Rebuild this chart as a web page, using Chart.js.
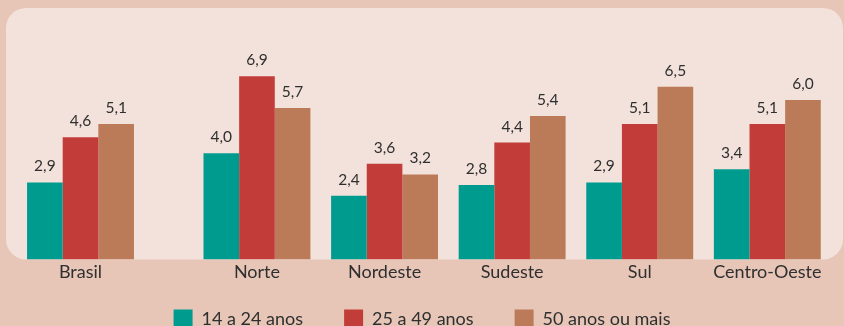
<!DOCTYPE html>
<html lang="pt-BR">
<head>
<meta charset="utf-8">
<script src="https://cdn.jsdelivr.net/npm/chart.js@4/dist/chart.umd.min.js"></script>
<style>
  html, body { margin: 0; padding: 0; overflow: hidden; background: #e7c6b8; }
  #wrap { width: 844px; height: 355px; position: relative; }
</style>
</head>
<body>
<div id="wrap"><canvas id="c"></canvas></div>
<script>
// Regiões e percentuais por faixa etária
const categories = ['Brasil', 'Norte', 'Nordeste', 'Sudeste', 'Sul', 'Centro-Oeste'];
const seriesNames = ['14 a 24 anos', '25 a 49 anos', '50 anos ou mais'];
const jovens   = [2.9, 4.0, 2.4, 2.8, 2.9, 3.4];
const adultos  = [4.6, 6.9, 3.6, 4.4, 5.1, 5.1];
const maisVelhos = [5.1, 5.7, 3.2, 5.4, 6.5, 6.0];

const colors = ['#009b8f', '#c23c39', '#bb7b58'];
const textColor = '#2f2f2f';
const fontFamily = 'Lato, "Open Sans", sans-serif';

// Brasil fica separado das regiões por um espaço extra
const brasilGap = 0.383;
const xPos = categories.map((c, i) => i + (i > 0 ? brasilGap : 0));

const toPoints = vals => vals.map((v, i) => ({ x: xPos[i], y: v }));

const fmt = v => v.toFixed(1).replace('.', ',');

// Painel arredondado claro atrás das barras
const panelPlugin = {
  id: 'panel',
  beforeDraw(chart) {
    const { ctx, width, height } = chart;
    const y0 = chart.scales.y.getPixelForValue(0);
    ctx.save();
    ctx.fillStyle = '#e7c6b8';
    ctx.fillRect(0, 0, width, height);
    ctx.fillStyle = '#f3e2db';
    ctx.beginPath();
    ctx.roundRect(6, 8, 837, y0 - 8, 20);
    ctx.fill();
    ctx.restore();
  }
};

// A legenda fica mais perto dos rótulos das regiões
const legendShift = {
  id: 'legendShift',
  afterLayout(chart) {
    const lg = chart.legend;
    if (!lg) return;
    const h = lg.bottom - lg.top;
    lg.top = chart.chartArea.bottom + 9;
    lg.bottom = lg.top + h;
  }
};

// Valores escritos acima de cada barra
const valueLabels = {
  id: 'valueLabels',
  afterDatasetsDraw(chart) {
    const { ctx } = chart;
    ctx.save();
    ctx.font = '15.5px ' + fontFamily;
    ctx.fillStyle = textColor;
    ctx.textAlign = 'center';
    ctx.textBaseline = 'alphabetic';
    chart.data.datasets.forEach((ds, di) => {
      const meta = chart.getDatasetMeta(di);
      meta.data.forEach((bar, i) => {
        ctx.fillText(fmt(ds.data[i].y), bar.x, bar.y - 11);
      });
    });
    ctx.restore();
  }
};

new Chart(document.getElementById('c'), {
  type: 'bar',
  data: {
    datasets: [
      { label: seriesNames[0], data: toPoints(jovens), backgroundColor: colors[0] },
      { label: seriesNames[1], data: toPoints(adultos), backgroundColor: colors[1] },
      { label: seriesNames[2], data: toPoints(maisVelhos), backgroundColor: colors[2] }
    ]
  },
  options: {
    responsive: true,
    maintainAspectRatio: false,
    animation: false,
    layout: { padding: 0 },
    datasets: { bar: { categoryPercentage: 0.838, barPercentage: 1.0, borderWidth: 0 } },
    scales: {
      x: {
        type: 'linear',
        offset: false,
        min: -0.631,
        max: 5.984,
        grid: { display: false, drawTicks: false },
        border: { display: false },
        afterBuildTicks(scale) {
          scale.ticks = xPos.map(v => ({ value: v }));
        },
        ticks: {
          autoSkip: false,
          maxRotation: 0,
          padding: 2,
          color: textColor,
          font: { family: fontFamily, size: 18 },
          callback(value) {
            const idx = xPos.findIndex(p => Math.abs(p - value) < 1e-6);
            return idx >= 0 ? categories[idx] : '';
          }
        }
      },
      y: {
        display: false,
        min: 0,
        max: 9.77
      }
    },
    plugins: {
      tooltip: { enabled: false },
      legend: {
        position: 'bottom',
        labels: {
          color: textColor,
          font: { family: fontFamily, size: 18 },
          boxWidth: 19,
          boxHeight: 19,
          padding: 41
        }
      }
    }
  },
  plugins: [panelPlugin, legendShift, valueLabels]
});
</script>
</body>
</html>
